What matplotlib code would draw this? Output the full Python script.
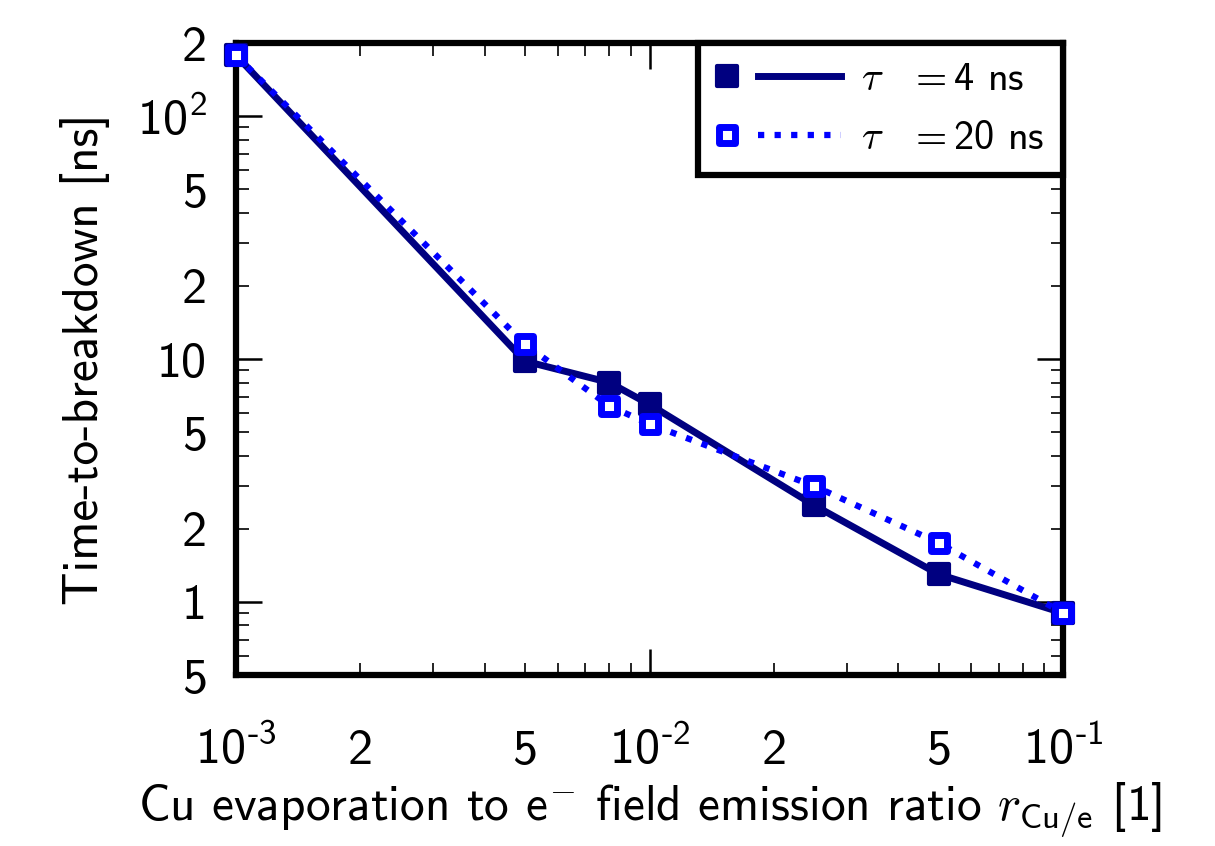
import matplotlib
matplotlib.use("Agg")
import matplotlib.pyplot as plt
from matplotlib.lines import Line2D
from matplotlib.markers import MarkerStyle
from matplotlib.legend_handler import HandlerLine2D

# data
ratio = [1e-3, 5e-3, 8e-3, 1e-2, 2.5e-2, 5e-2, 1e-1]
t_4ns = [178, 9.8, 8.0, 6.5, 2.5, 1.3, 0.9]
t_20ns = [178, 11.5, 6.4, 5.4, 3.0, 1.75, 0.9]

x_major = [1e-3, 1e-2, 1e-1]
x_major_labels = [r"$10^{\text{-}3}$", r"$10^{\text{-}2}$", r"$10^{\text{-}1}$"]
x_minor = [2e-3, 3e-3, 4e-3, 5e-3, 6e-3, 7e-3, 8e-3, 9e-3,
           2e-2, 3e-2, 4e-2, 5e-2, 6e-2, 7e-2, 8e-2, 9e-2]
x_minor_labels = ["2", "", "", "5", "", "", "", "",
                  "2", "", "", "5", "", "", "", ""]

y_major = [1, 10, 100]
y_major_labels = ["1", "10", r"$10^{2}$"]
y_minor = [0.5, 0.6, 0.7, 0.8, 0.9, 2, 3, 4, 5, 6, 7, 8, 9,
           20, 30, 40, 50, 60, 70, 80, 90, 200]
y_minor_labels = ["5", "", "", "", "", "2", "", "", "5", "", "", "", "",
                  "2", "", "", "5", "", "", "", "", "2"]

plt.rcParams["font.family"] = "cmss10"
plt.rcParams["mathtext.fontset"] = "custom"
plt.rcParams["mathtext.rm"] = "cmss10"
plt.rcParams["mathtext.sf"] = "cmss10"
plt.rcParams["mathtext.it"] = "cmmi10"
plt.rcParams["mathtext.fallback"] = "cm"
plt.rcParams["axes.unicode_minus"] = False


class MarkerThenLine(HandlerLine2D):
    # marker on the left, line segment to the right of it
    def create_artists(self, legend, orig_handle, xdescent, ydescent,
                       width, height, fontsize, trans):
        y = height / 2 - ydescent
        line = Line2D([-xdescent + 0.333 * width, -xdescent + width], [y, y])
        self.update_prop(line, orig_handle, legend)
        line.set_marker("")
        mark = Line2D([-xdescent + 0.083 * width], [y])
        self.update_prop(mark, orig_handle, legend)
        mark.set_linestyle("")
        line.set_transform(trans)
        mark.set_transform(trans)
        return [line, mark]


fig = plt.figure(figsize=(12.15, 8.46), dpi=100)
ax = fig.add_axes([236 / 1215, 1 - 675 / 846, (1063 - 236) / 1215, (675 - 43) / 846])

sq = MarkerStyle("s", joinstyle="round")
ax.plot(ratio, t_4ns, color="#000080", lw=5, ls="-", marker=sq, ms=14,
        mew=3, mec="#000080", mfc="#000080", solid_joinstyle="round",
        label=r"$\tau\ \;\:=$4 ns", clip_on=False, zorder=3)
ax.plot(ratio, t_20ns, color="#0000ff", lw=4.5, ls=":", marker=sq, ms=11,
        mew=5, mec="#0000ff", mfc="white",
        label=r"$\tau\ \;\:=$20 ns", clip_on=False, zorder=4)

ax.set_xscale("log")
ax.set_yscale("log")
ax.set_xlim(1e-3, 1e-1)
ax.set_ylim(0.5, 200)

ax.set_xticks(x_major)
ax.set_xticklabels(x_major_labels)
ax.set_xticks(x_minor, minor=True)
ax.set_xticklabels(x_minor_labels, minor=True)
ax.set_yticks(y_major)
ax.set_yticklabels(y_major_labels)
ax.set_yticks(y_minor, minor=True)
ax.set_yticklabels(y_minor_labels, minor=True)

ax.tick_params(which="both", direction="in", top=True, right=True, labelsize=36, colors="black")
ax.tick_params(which="major", length=19, width=1.8)
ax.tick_params(which="minor", length=9, width=1.2)
ax.tick_params(axis="x", which="both", pad=64)
ax.tick_params(axis="y", which="both", pad=21)
for lab in ax.get_xticklabels(which="both"):
    lab.set_va("baseline")

for s in ax.spines.values():
    s.set_linewidth(4.5)

ax.set_xlabel(r"Cu evaporation to e$^{-}$ field emission ratio $r_{\mathsf{Cu/e}}$ [1]", fontsize=35.5, labelpad=4.5)
ax.set_ylabel("Time-to-breakdown [ns]", fontsize=35.5, labelpad=19)

leg = ax.legend(loc="upper right", borderaxespad=0, fontsize=29, fancybox=False,
                handlelength=3.1, handletextpad=0.5, borderpad=0.45, labelspacing=0.55,
                framealpha=1, handler_map={Line2D: MarkerThenLine()})
leg.get_frame().set_edgecolor("black")
leg.get_frame().set_linewidth(4.5)
leg.set_zorder(5)

fig.savefig("out.png", dpi=100)
